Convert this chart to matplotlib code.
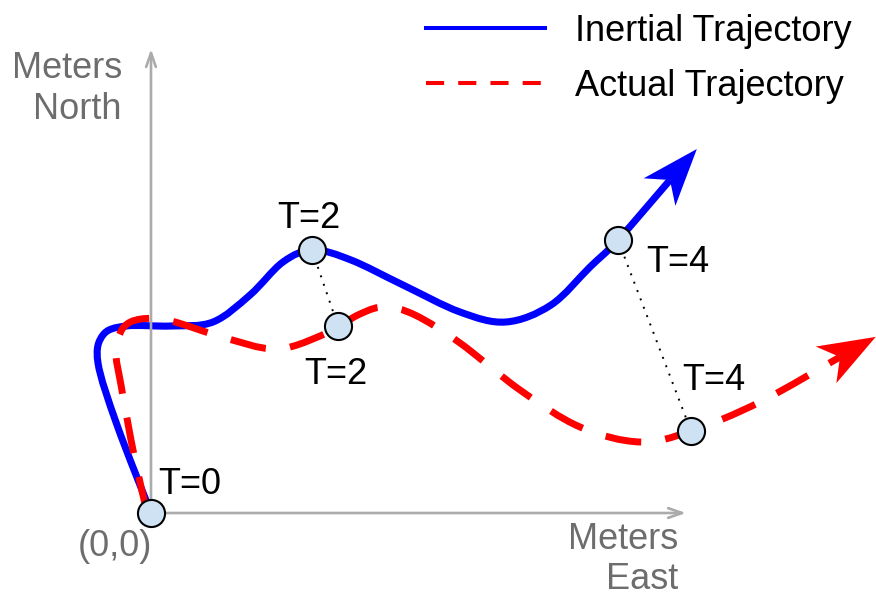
import numpy as np
import matplotlib
matplotlib.use('Agg')
import matplotlib.pyplot as plt
from matplotlib.path import Path
from matplotlib.patches import PathPatch, Polygon
from matplotlib.lines import Line2D

plt.rcParams['font.family'] = 'Liberation Sans'

# trajectories, in meters east / north of the start point
inertial_east = [0, -34, -53, -48, -25, 20, 62, 99, 132, 162, 200, 252, 309,
                 355, 400, 439, 467, 519]
inertial_north = [0, 88, 150, 178, 187, 187, 191, 218, 251, 263, 253, 228, 201,
                  191, 208, 246, 273, 333]

actual_east = [-4, -17, -30, -35, -28, -10, 20, 71, 124, 169, 209, 234, 264, 309,
               369, 429, 489, 540, 609, 689]
actual_north = [1, 58, 128, 161, 185, 194, 192, 176, 164, 177, 199, 206, 198, 170,
                123, 86, 71, 82, 111, 156]

# sample times
t_labels = ['T=0', 'T=2', 'T=4']
inertial_pts_east = [0, 161, 467]
inertial_pts_north = [0, 263, 273]
actual_pts_east = [0, 187, 540]
actual_pts_north = [0, 187, 82]

BLUE = '#0000ff'
RED = '#ff0000'
AXIS_GRAY = '#ababab'
TEXT_GRAY = '#6d6d6d'
FS = 26


def smooth_path(xs, ys):
    # Catmull-Rom through the points, handed to matplotlib as cubic beziers
    pts = np.column_stack([xs, ys]).astype(float)
    verts = [pts[0]]
    codes = [Path.MOVETO]
    n = len(pts)
    for i in range(n - 1):
        p0 = pts[i - 1] if i > 0 else pts[i]
        p1, p2 = pts[i], pts[i + 1]
        p3 = pts[i + 2] if i + 2 < n else pts[i + 1]
        verts += [p1 + (p2 - p0) / 6, p2 - (p3 - p1) / 6, p2]
        codes += [Path.CURVE4] * 3
    return Path(verts, codes)


def arrow_head(ax, xs, ys, color, depth=41, length=57, half_width=21, zorder=3):
    end = np.array([xs[-1], ys[-1]], float)
    d = end - np.array([xs[-2], ys[-2]], float)
    d /= np.hypot(*d)
    nrm = np.array([-d[1], d[0]])
    tip = end + d * depth
    base = tip - d * length
    head = [tip, base + nrm * half_width, end, base - nrm * half_width]
    ax.add_patch(Polygon(head, closed=True, fc=color, ec='none', zorder=zorder))


fig = plt.figure(figsize=(8.76, 5.96), dpi=100)
ax = fig.add_axes([0, 0, 1, 1])
ax.set_xlim(-151, 725)
ax.set_ylim(-83, 513)
ax.set_aspect('equal')
ax.axis('off')

# axes with arrows
arrow_kw = dict(arrowstyle='->,head_length=1.0,head_width=0.35', color=AXIS_GRAY,
                lw=1.9, shrinkA=0, shrinkB=0)
ax.annotate('', xy=(0, 464), xytext=(0, 0), arrowprops=arrow_kw, zorder=4)
ax.annotate('', xy=(535, 0), xytext=(0, 0), arrowprops=arrow_kw, zorder=4)

# trajectories
ax.add_patch(PathPatch(smooth_path(inertial_east, inertial_north), fill=False,
                       ec=BLUE, lw=5.1, capstyle='butt', joinstyle='round', zorder=2))
arrow_head(ax, inertial_east, inertial_north, BLUE, zorder=2)

ax.add_patch(PathPatch(smooth_path(actual_east, actual_north), fill=False,
                       ec=RED, lw=5.0, ls=(0, (5.2, 3.5)), capstyle='butt', zorder=3))
arrow_head(ax, actual_east, actual_north, RED, zorder=3)

# dotted links between matching times
for i in range(1, len(t_labels)):
    ax.plot([inertial_pts_east[i], actual_pts_east[i]],
            [inertial_pts_north[i], actual_pts_north[i]],
            color='black', lw=1.4, ls=(0, (1, 3.6)), zorder=4)

ax.plot(inertial_pts_east, inertial_pts_north, 'o', ms=19.5, mfc='#cfe2f3',
        mec='black', mew=1.5, zorder=5)
ax.plot(actual_pts_east[1:], actual_pts_north[1:], 'o', ms=19.5, mfc='#cfe2f3',
        mec='black', mew=1.5, zorder=5)

# time labels
inertial_offsets = [(39, 28), (-3, 32), (60, -22)]
actual_offsets = [None, (-2, -49), (23, 51)]
for i, lab in enumerate(t_labels):
    dx, dy = inertial_offsets[i]
    ax.text(inertial_pts_east[i] + dx, inertial_pts_north[i] + dy, lab,
            fontsize=FS, ha='center', va='center', zorder=6)
    if actual_offsets[i] is not None:
        dx, dy = actual_offsets[i]
        ax.text(actual_pts_east[i] + dx, actual_pts_north[i] + dy, lab,
                fontsize=FS, ha='center', va='center', zorder=6)

# axis labels
ax.text(-29, 462, 'Meters\nNorth', fontsize=FS, color=TEXT_GRAY,
        ha='right', va='top', multialignment='right', linespacing=1.24)
ax.text(527, -9, 'Meters\nEast', fontsize=FS, color=TEXT_GRAY,
        ha='right', va='top', multialignment='right', linespacing=1.2)
ax.text(-36, -33, '(0,0)', fontsize=FS, color=TEXT_GRAY, ha='center', va='center')

handles = [Line2D([], [], color=BLUE, lw=2.9),
           Line2D([], [], color=RED, lw=2.9, ls=(0, (4.5, 3.5)))]
ax.legend(handles, ['Inertial Trajectory', 'Actual Trajectory'],
          loc='upper left', bbox_to_anchor=(275, 499), bbox_transform=ax.transData,
          frameon=False, fontsize=FS, borderpad=0, borderaxespad=0,
          handlelength=3.3, handletextpad=0.83, labelspacing=0.55)

fig.savefig('out.png', dpi=100)
